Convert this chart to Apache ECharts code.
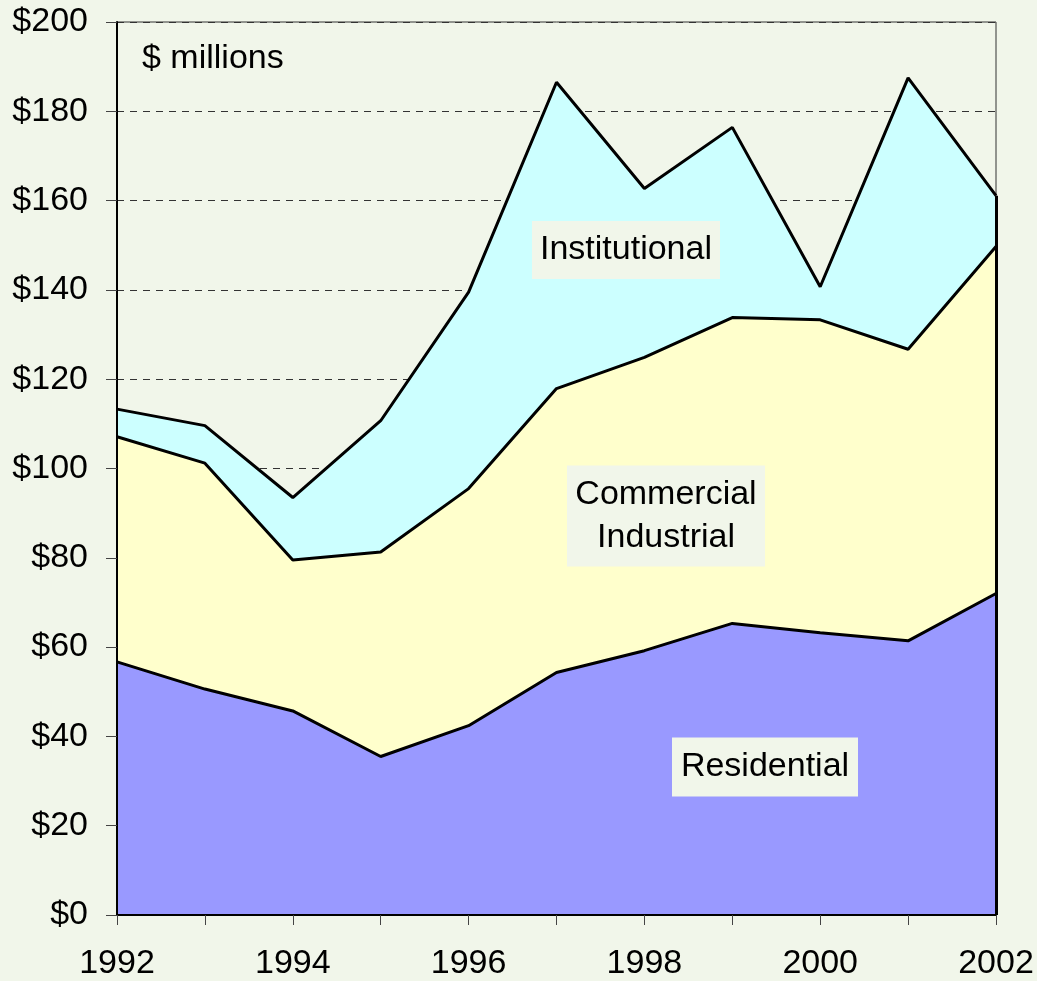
<!DOCTYPE html>
<html>
<head>
<meta charset="utf-8">
<script src="https://cdn.jsdelivr.net/npm/echarts@6/dist/echarts.min.js"></script>
<style>
  html, body { margin: 0; padding: 0; background: #f1f6ea; }
  #chart { width: 1037px; height: 981px; }
</style>
</head>
<body>
<div id="chart"></div>
<script>
// years on the x axis
const years = ['1992', '1993', '1994', '1995', '1996', '1997', '1998', '1999', '2000', '2001', '2002'];
// stacked components, $ millions
const residential = [56.7, 50.6, 45.7, 35.5, 42.4, 54.3, 59.2, 65.3, 63.2, 61.4, 72.0];
const commercial = [50.4, 50.6, 33.8, 45.8, 53.1, 63.6, 65.7, 68.5, 70.1, 65.3, 77.7];
const institutional = [6.2, 8.4, 14.0, 29.4, 44.0, 68.6, 37.8, 42.6, 7.4, 60.8, 11.4];

const bg = '#f1f6ea';
const font = '"Liberation Sans", Arial, sans-serif';
const fs = 34;

const chart = echarts.init(document.getElementById('chart'));

// area series builder
const area = (name, data, color) => ({
  name: name,
  type: 'line',
  stack: 'total',
  data: data,
  symbol: 'none',
  lineStyle: {color: '#000', width: 3},
  areaStyle: {color: color, opacity: 1},
  z: 3
});

// label box: rect + text
const boxLabel = (cx, cy, w, h, text, lineHeight) => ([
  {type: 'rect', z: 100, shape: {x: cx - w / 2, y: cy - h / 2, width: w, height: h}, style: {fill: bg}},
  {type: 'text', z: 101, x: cx, y: cy, style: {
    text: text, font: fs + 'px ' + font, fill: '#000',
    align: 'center', verticalAlign: 'middle', lineHeight: lineHeight || 40
  }}
]);

// outline on the right edge of the stack
const last = years.length - 1;
const lastTotal = residential[last] + commercial[last] + institutional[last];

const instSeries = area('Institutional', institutional, '#ccffff');
instSeries.markLine = {
  silent: true,
  symbol: 'none',
  label: {show: false},
  lineStyle: {color: '#000', width: 3, type: 'solid'},
  data: [[{coord: [years[last], 0]}, {coord: [years[last], lastTotal]}]]
};

chart.setOption({
  backgroundColor: bg,
  animation: false,
  grid: {
    left: 117, right: 41, top: 22, bottom: 66,
    show: true, borderColor: '#333', borderWidth: 1, backgroundColor: 'transparent'
  },
  xAxis: {
    type: 'category',
    data: years,
    boundaryGap: false,
    axisLine: {lineStyle: {color: '#000', width: 2}},
    axisTick: {show: true, alignWithLabel: true, interval: 0, length: 10, lineStyle: {color: '#444', width: 1}},
    axisLabel: {interval: 1, margin: 32, fontSize: fs, fontFamily: font, color: '#000'},
    splitLine: {show: false},
    z: 10
  },
  yAxis: [
    {
      // gridlines behind the areas
      type: 'value', min: 0, max: 200, interval: 20,
      axisLine: {show: false}, axisTick: {show: false}, axisLabel: {show: false},
      splitLine: {show: true, lineStyle: {color: '#333', type: [7, 6], width: 1}},
      z: 1
    },
    {
      type: 'value', min: 0, max: 200, interval: 20,
      position: 'left',
      axisLine: {show: true, lineStyle: {color: '#000', width: 2}},
      axisTick: {show: true, length: 11, lineStyle: {color: '#444', width: 1}},
      axisLabel: {margin: 29, fontSize: fs, fontFamily: font, color: '#000', formatter: v => '$' + v},
      splitLine: {show: false},
      z: 10
    }
  ],
  series: [
    area('Residential', residential, '#9999ff'),
    area('Commercial Industrial', commercial, '#ffffcc'),
    instSeries
  ],
  graphic: [
    {type: 'text', left: 142, top: 42, z: 100, style: {text: '$ millions', font: fs + 'px ' + font, fill: '#000'}},
    ...boxLabel(626, 250, 188, 58, 'Institutional'),
    ...boxLabel(666, 516, 198, 101, 'Commercial\nIndustrial', 43),
    ...boxLabel(765, 767, 186, 59, 'Residential')
  ]
});
</script>
</body>
</html>
